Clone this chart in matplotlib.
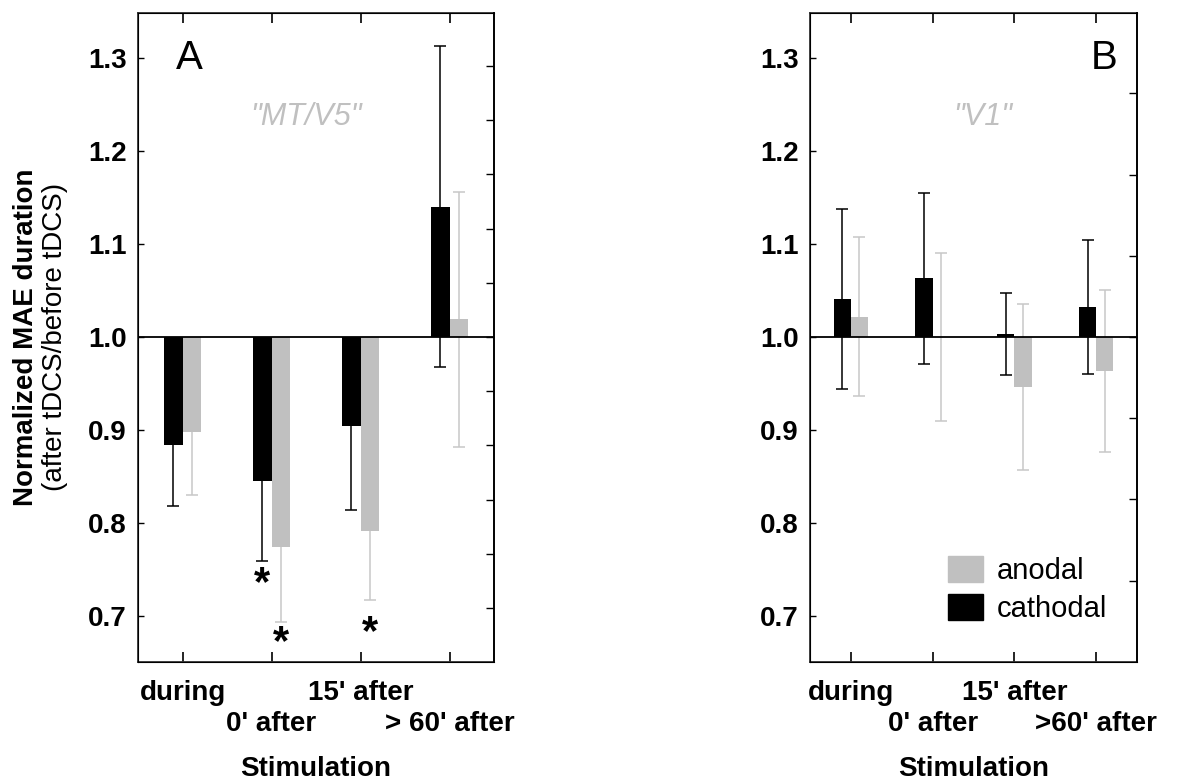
import numpy as np
import matplotlib
matplotlib.use('Agg')
import matplotlib.pyplot as plt
from matplotlib.patches import Patch

plt.rcParams['font.family'] = ['Liberation Sans', 'DejaVu Sans']

# data
conditions = ["during", "0' after", "15' after", "> 60' after"]
conditions_b = ["during", "0' after", "15' after", ">60' after"]

# panel A ("MT/V5")
cath_a = [0.884, 0.845, 0.904, 1.140]
cath_a_err = [0.066, 0.086, 0.090, 0.172]
anod_a = [0.898, 0.775, 0.792, 1.019]
anod_a_err = [0.068, 0.081, 0.074, 0.137]

# panel B ("V1")
cath_b = [1.041, 1.063, 1.003, 1.032]
cath_b_err = [0.097, 0.092, 0.044, 0.072]
anod_b = [1.022, 1.000, 0.946, 0.964]
anod_b_err = [0.085, 0.090, 0.089, 0.087]

# significance stars in panel A: (condition index, series, y)
stars_a = [(1, 'cath', 0.735), (1, 'anod', 0.671), (2, 'anod', 0.682)]

GREY = '#c0c0c0'
ERR_GREY = '#c8c8c8'
W = 0.21
FS = 20


def draw_panel(ax, cath, cath_err, anod, anod_err, labels, letter, region, letter_x, region_x, right_step):
    x = np.arange(1, len(cath) + 1)
    # bars hang from the 1.0 baseline
    ax.bar(x - W / 2, np.array(cath) - 1.0, W, bottom=1.0, color='black', zorder=3)
    ax.bar(x + W / 2, np.array(anod) - 1.0, W, bottom=1.0, color=GREY, zorder=3)
    ax.errorbar(x - W / 2, cath, yerr=cath_err, fmt='none', ecolor='black',
                elinewidth=1.1, capsize=4, capthick=1.1, zorder=2)
    ax.errorbar(x + W / 2, anod, yerr=anod_err, fmt='none', ecolor=ERR_GREY,
                elinewidth=1.1, capsize=4, capthick=1.1, zorder=2)
    ax.axhline(1.0, color='black', lw=1.3, zorder=4)

    ax.set_xlim(0.5, 4.5)
    ax.set_ylim(0.651, 1.348)
    ax.set_yticks([0.7, 0.8, 0.9, 1.0, 1.1, 1.2, 1.3])
    ax.set_yticklabels(['0.7', '0.8', '0.9', '1.0', '1.1', '1.2', '1.3'],
                       fontsize=FS, fontweight='bold')
    # staggered labels: odd ones on major ticks, even ones on minor ticks further down
    ax.set_xticks(x[::2])
    ax.set_xticklabels(labels[::2], fontsize=FS, fontweight='bold')
    ax.set_xticks(x[1::2], minor=True)
    ax.set_xticklabels(labels[1::2], minor=True, fontsize=FS, fontweight='bold')
    ax.tick_params(axis='x', which='both', direction='in', top=True, length=7, width=1.2)
    ax.tick_params(axis='x', which='major', pad=13)
    ax.tick_params(axis='x', which='minor', pad=35)
    ax.tick_params(axis='y', direction='in', length=4, width=1, pad=8)
    for s in ax.spines.values():
        s.set_linewidth(1.3)
        s.set_color('#333333')
    ax.set_xlabel('Stimulation', fontsize=FS, fontweight='bold', labelpad=14)

    # right-hand ticks (separate scale, no labels)
    ax2 = ax.twinx()
    ax2.set_ylim(ax.get_ylim())
    rt = 1.0 + right_step * np.arange(-6, 7)
    ax2.set_yticks(rt[(rt > 0.66) & (rt < 1.34)])
    ax2.set_yticklabels([])
    ax2.tick_params(axis='y', direction='in', length=6, width=1)
    ax2.spines['right'].set_linewidth(1.3)

    ax.text(letter_x, 1.30, letter, fontsize=29, ha='center', va='center')
    ax.text(region_x, 0.84, region, transform=ax.transAxes, fontsize=22, style='italic',
            color=GREY, ha='center', va='center')


fig = plt.figure(figsize=(11.98, 7.81), dpi=100)
ax_a = fig.add_axes([0.1152, 0.1524, 0.2972, 0.831])
ax_b = fig.add_axes([0.6761, 0.1524, 0.2730, 0.831])

draw_panel(ax_a, cath_a, cath_a_err, anod_a, anod_a_err, conditions, 'A', '"MT/V5"', 1.08, 0.472, 0.0582)
draw_panel(ax_b, cath_b, cath_b_err, anod_b, anod_b_err, conditions_b, 'B', '"V1"', 4.1, 0.529, 0.0872)

for idx, series, yy in stars_a:
    xx = idx + 1 + (-W / 2 if series == 'cath' else W / 2)
    ax_a.text(xx, yy, '*', fontsize=30, fontweight='bold', ha='center', va='center')

fig.text(0.022, 0.568, 'Normalized MAE duration', rotation=90, fontsize=FS,
         fontweight='bold', ha='center', va='center')
fig.text(0.046, 0.568, '(after tDCS/before tDCS)', rotation=90, fontsize=FS,
         ha='center', va='center')

handles = [Patch(color=GREY, label='anodal'), Patch(color='black', label='cathodal')]
ax_b.legend(handles=handles, loc='lower right', bbox_to_anchor=(0.99, 0.02), frameon=False,
            fontsize=21, handlelength=1.2, handleheight=1.0, handletextpad=0.5,
            labelspacing=0.3)

fig.savefig('out.png', dpi=100)
